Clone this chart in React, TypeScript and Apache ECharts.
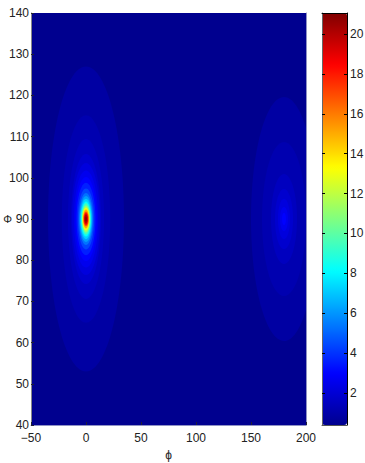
import React, { useEffect, useRef } from "react";
import * as echarts from "echarts";

const phiTicks = { min: -50, max: 200, step: 50 };
const thetaTicks = { min: 40, max: 140, step: 10 };
const colorTicks = [2, 4, 6, 8, 10, 12, 14, 16, 18, 20];
const colorMin = 0.4;
const colorMax = 21.05;
const jet = ["#00008f", "#0000ff", "#0080ff", "#00ffff", "#80ff80", "#ffff00", "#ff8000", "#ff0000", "#800000"];

// Contour bands: [half-width in phi, half-height in theta, value]
const mainLobeCentre = [0, 90];
const mainLobe = [
  [34.5, 37, 0.85], [22, 25.2, 1.15], [16.4, 19.4, 1.45], [13.6, 15.8, 1.8],
  [12.6, 13.6, 2.2], [11, 11.8, 2.6], [9.8, 10.2, 3.0], [8.6, 8.8, 3.6],
  [7.4, 7.4, 4.4], [6.4, 6.3, 5.3], [5.7, 5.6, 6.2], [5.1, 4.9, 7.2],
  [4.5, 4.25, 8.2], [4.1, 3.8, 9.5], [3.6, 3.3, 11], [3.2, 2.8, 13],
  [2.7, 2.3, 15], [2.3, 1.8, 17], [1.8, 1.45, 18.6], [1.4, 1.1, 20], [0.9, 0.6, 20.8],
];
const backLobeCentre = [180, 90];
const backLobe = [
  [30, 29.6, 0.85], [20, 18.7, 1.15], [11.8, 10.9, 1.5], [8.2, 7.3, 1.85],
  [5.5, 4.9, 2.2], [3.6, 2.9, 2.6], [1.8, 1.5, 3.0],
];

const toBands = (centre: number[], bands: number[][]) =>
  bands.map((b) => [centre[0], centre[1], b[0], b[1], b[2]]);

const font = "'Liberation Sans', Arial, sans-serif";
const ink = "#222";

export default function App() {
  const ref = useRef<HTMLDivElement>(null);
  useEffect(() => {
    const chart = echarts.init(ref.current!, null, { renderer: "svg" });
    chart.setOption({
      animation: false,
      backgroundColor: "#fff",
      grid: [
        { left: 31, top: 13, width: 275, height: 412, show: true, backgroundColor: "#00008f", borderWidth: 0, outerBoundsMode: "none" },
        { left: 322, top: 13, width: 25, height: 412, show: false, outerBoundsMode: "none" },
      ],
      xAxis: [
        {
          gridIndex: 0, type: "value", min: phiTicks.min, max: phiTicks.max, interval: phiTicks.step,
          name: "ϕ", nameLocation: "middle", nameGap: 24, nameMoveOverlap: false,
          nameTextStyle: { fontFamily: font, fontSize: 12, color: ink },
          axisLine: { show: true, onZero: false, lineStyle: { color: "#8f92c4", width: 1 } },
          axisTick: { show: true, inside: true, length: 3, lineStyle: { color: "#223" } },
          axisLabel: { fontFamily: font, fontSize: 12, color: ink, margin: 7, hideOverlap: false, formatter: (v: number) => (v < 0 ? "\u2212" + -v : "" + v) },
          splitLine: { show: false },
        },
        {
          gridIndex: 1, type: "value", min: 0, max: 1, position: "top", z: 10,
          axisLine: { show: true, lineStyle: { color: "#000", width: 1 } },
          axisTick: { show: false }, axisLabel: { show: false }, splitLine: { show: false },
        },
        {
          gridIndex: 1, type: "value", min: 0, max: 1, position: "bottom", z: 10,
          axisLine: { show: true, onZero: false, lineStyle: { color: "#555", width: 1 } },
          axisTick: { show: false }, axisLabel: { show: false }, splitLine: { show: false },
        },
      ],
      yAxis: [
        {
          gridIndex: 0, type: "value", min: thetaTicks.min, max: thetaTicks.max, interval: thetaTicks.step,
          name: "Φ", nameLocation: "middle", nameGap: 19, nameRotate: 0, nameMoveOverlap: false,
          nameTextStyle: { fontFamily: font, fontSize: 11, color: ink },
          axisLine: { show: true, onZero: false, lineStyle: { color: "#888", width: 1 } },
          axisTick: { show: true, inside: true, length: 3, lineStyle: { color: "#223" } },
          axisLabel: { fontFamily: font, fontSize: 12, color: ink, margin: 2 },
          splitLine: { show: false },
        },
        {
          gridIndex: 0, type: "value", min: thetaTicks.min, max: thetaTicks.max, interval: thetaTicks.step, position: "right",
          axisLine: { show: true, onZero: false, lineStyle: { color: "#8f92c4", width: 1 } },
          axisTick: { show: false }, axisLabel: { show: false }, splitLine: { show: false },
        },
        {
          gridIndex: 1, type: "value", min: colorMin, max: colorMax, position: "right", z: 10,
          axisLine: { show: true, onZero: false, lineStyle: { color: "#000", width: 1 } },
          axisTick: { show: true, inside: true, length: 3, customValues: colorTicks, lineStyle: { color: "#000" } },
          axisLabel: { show: true, customValues: colorTicks, fontFamily: font, fontSize: 12, color: ink, margin: 3 },
          splitLine: { show: false },
        },
        {
          gridIndex: 1, type: "value", min: colorMin, max: colorMax, position: "left", z: 10,
          axisLine: { show: true, onZero: false, lineStyle: { color: "#666", width: 1 } },
          axisTick: { show: true, inside: true, length: 3, customValues: colorTicks, lineStyle: { color: "#000" } },
          axisLabel: { show: false },
          splitLine: { show: false },
        },
      ],
      visualMap: {
        type: "continuous",
        min: colorMin,
        max: colorMax,
        dimension: 4,
        seriesIndex: 0,
        calculable: false,
        hoverLink: false,
        showLabel: false,
        text: ["", ""],
        left: 322,
        top: 13,
        padding: 0,
        itemWidth: 25,
        itemHeight: 412,
        inRange: { color: jet },
      },
      series: [
        {
          type: "custom",
          coordinateSystem: "cartesian2d",
          xAxisIndex: 0,
          yAxisIndex: 0,
          clip: true,
          silent: true,
          data: [...toBands(mainLobeCentre, mainLobe), ...toBands(backLobeCentre, backLobe)],
          encode: { x: 0, y: 1 },
          renderItem: (_: any, api: any) => {
            const c = api.coord([api.value(0), api.value(1)]);
            const e = api.coord([api.value(0) + api.value(2), api.value(1) + api.value(3)]);
            return {
              type: "ellipse",
              shape: { cx: c[0], cy: c[1], rx: Math.abs(e[0] - c[0]), ry: Math.abs(e[1] - c[1]) },
              style: { fill: api.visual("color") },
            };
          },
        },
      ],
    });
    return () => chart.dispose();
  }, []);
  return <div ref={ref} style={{ position: "fixed", left: 0, top: 0, width: 365, height: 463 }} />;
}
